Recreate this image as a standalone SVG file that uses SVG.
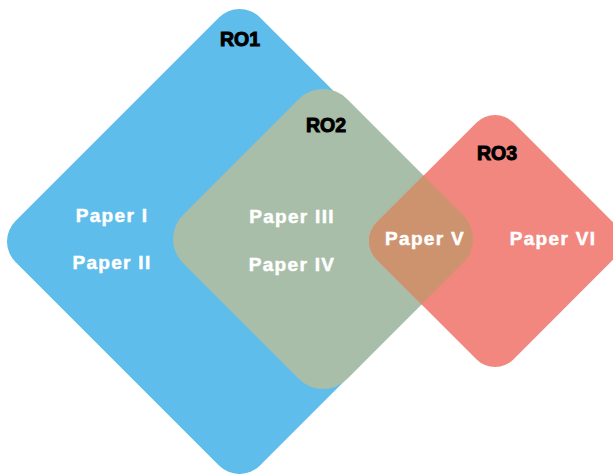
<svg xmlns="http://www.w3.org/2000/svg" width="613" height="474" viewBox="0 0 613 474">
  <style>
    .ro { font-family: "Liberation Sans", Arial, sans-serif; font-weight: bold; font-size: 19.5px; fill: #000; stroke: #000; stroke-width: 1; text-anchor: middle; }
    .paper { font-family: "Liberation Sans", Arial, sans-serif; font-weight: bold; font-size: 19px; fill: #fff; stroke: #fff; stroke-width: 0.5; letter-spacing: 1.3px; text-anchor: middle; }
  </style>
  <defs>
    <!-- RO3 outline, reused for the fill and for the RO2/RO3 overlap -->
    <rect id="shape-ro3" x="398.25" y="144.25" width="193.5" height="193.5" rx="26" transform="rotate(45 495 241)"/>
    <rect id="shape-ro2" x="207" y="123" width="232" height="232" rx="34" transform="rotate(45 323 239)"/>
    <clipPath id="clip-ro3">
      <use href="#shape-ro3"/>
    </clipPath>
  </defs>
  <rect width="613" height="474" fill="#fff"/>

  <g id="ro1">
    <rect x="66.6" y="68.6" width="345.8" height="345.8" rx="29" fill="#5EBDEA" transform="rotate(45 239.5 241.5)"/>
    <text class="ro" x="240" y="46">RO1</text>
    <text class="paper" x="112" y="222">Paper I</text>
    <text class="paper" x="112" y="269">Paper II</text>
  </g>

  <g id="ro2">
    <use href="#shape-ro2" fill="#A9BEA8"/>
    <text class="ro" x="326" y="132">RO2</text>
    <text class="paper" x="292" y="223">Paper III</text>
    <text class="paper" x="292" y="271">Paper IV</text>
  </g>

  <g id="ro3">
    <use href="#shape-ro3" fill="#F1877F"/>
    <text class="ro" x="497" y="160">RO3</text>
    <text class="paper" x="553" y="245">Paper VI</text>
  </g>

  <g id="ro2-ro3">
    <g clip-path="url(#clip-ro3)">
      <use href="#shape-ro2" fill="#CD936F"/>
    </g>
    <text class="paper" x="425" y="245">Paper V</text>
  </g>

  <g id="connectors"/>
</svg>
